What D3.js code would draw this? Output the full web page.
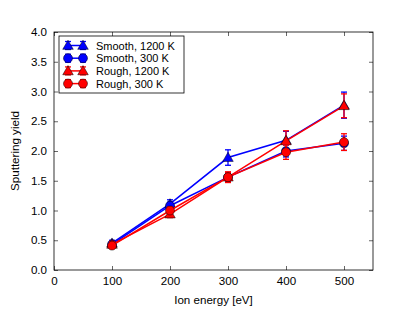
<!DOCTYPE html>
<html>
<head>
<meta charset="utf-8">
<script src="https://cdn.jsdelivr.net/npm/d3@7"></script>
<style>
  body { margin: 0; background: #fff; }
  svg { font-family: "Liberation Sans", Arial, sans-serif; }
</style>
</head>
<body>
<div id="chart"></div>
<script>
// data
const energies = [100, 200, 300, 400, 500]
const seriesNames = ['Smooth, 1200 K', 'Smooth, 300 K', 'Rough, 1200 K', 'Rough, 300 K']
const smooth1200 = [0.45, 1.11, 1.89, 2.18, 2.77]
const smooth1200Err = [0.05, 0.07, 0.13, 0.15, 0.22]
const smooth300 = [0.43, 1.08, 1.56, 2.0, 2.13]
const smooth300Err = [0.05, 0.06, 0.08, 0.1, 0.12]
const rough1200 = [0.43, 0.94, 1.56, 2.17, 2.76]
const rough1200Err = [0.05, 0.06, 0.08, 0.17, 0.2]
const rough300 = [0.41, 1.0, 1.56, 1.98, 2.15]
const rough300Err = [0.05, 0.06, 0.09, 0.12, 0.14]
const xTicks = [0, 100, 200, 300, 400, 500]
const yTicks = [0, 0.5, 1, 1.5, 2, 2.5, 3, 3.5, 4]

const series = [
  { name: seriesNames[0], y: smooth1200, err: smooth1200Err, color: 'blue', marker: 'triangle' },
  { name: seriesNames[1], y: smooth300, err: smooth300Err, color: 'blue', marker: 'circle' },
  { name: seriesNames[2], y: rough1200, err: rough1200Err, color: 'red', marker: 'triangle' },
  { name: seriesNames[3], y: rough300, err: rough300Err, color: 'red', marker: 'circle' }
]

const width = 415, height = 312
const margin = { top: 32, right: 42, bottom: 42, left: 54 }

const svg = d3.select('#chart').append('svg')
  .attr('width', width)
  .attr('height', height)

const x = d3.scaleLinear().domain([0, 550]).range([margin.left, width - margin.right])
const y = d3.scaleLinear().domain([0, 4]).range([height - margin.bottom, margin.top])

const tickLen = 4
// bottom + top ticks
svg.append('g').attr('transform', `translate(0,${y(0)})`)
  .call(d3.axisBottom(x).tickValues(xTicks).tickSizeInner(-tickLen).tickSizeOuter(0).tickPadding(7).tickFormat(d3.format('d')))
svg.append('g').attr('transform', `translate(0,${y(4)})`)
  .call(d3.axisTop(x).tickValues(xTicks).tickSizeInner(-tickLen).tickSizeOuter(0).tickFormat(''))
// left + right ticks
svg.append('g').attr('transform', `translate(${x(0)},0)`)
  .call(d3.axisLeft(y).tickValues(yTicks).tickSizeInner(-tickLen).tickSizeOuter(0).tickPadding(7).tickFormat(d3.format('.1f')))
svg.append('g').attr('transform', `translate(${x(550)},0)`)
  .call(d3.axisRight(y).tickValues(yTicks).tickSizeInner(-tickLen).tickSizeOuter(0).tickFormat(''))

svg.selectAll('.domain').remove()
svg.selectAll('.tick line').attr('stroke', '#000').attr('stroke-width', 0.6)
svg.selectAll('.tick text').attr('font-size', 11.6).attr('fill', '#000')

svg.append('rect')
  .attr('x', x(0)).attr('y', y(4))
  .attr('width', x(550) - x(0)).attr('height', y(0) - y(4))
  .attr('fill', 'none').attr('stroke', '#000').attr('stroke-width', 0.8)

svg.append('text')
  .attr('x', (x(0) + x(550)) / 2).attr('y', height - 8)
  .attr('text-anchor', 'middle').attr('font-size', 11.6)
  .text('Ion energy [eV]')
svg.append('text')
  .attr('transform', `translate(19,${(y(0) + y(4)) / 2}) rotate(-90)`)
  .attr('text-anchor', 'middle').attr('font-size', 11.6)
  .text('Sputtering yield')

const triangle = d3.symbol().type(d3.symbolTriangle).size(48)

function drawMarker(g, s, cx, cy) {
  if (s.marker === 'circle') {
    g.append('circle').attr('cx', cx).attr('cy', cy).attr('r', 4.5)
      .attr('fill', s.color).attr('stroke', '#000').attr('stroke-width', 0.5)
  } else {
    g.append('path').attr('d', triangle).attr('transform', `translate(${cx},${cy + 0.8})`)
      .attr('fill', s.color).attr('stroke', '#000').attr('stroke-width', 0.5)
  }
}

function drawErr(g, s, cx, y0, y1) {
  g.append('line').attr('x1', cx).attr('x2', cx).attr('y1', y0).attr('y2', y1)
    .attr('stroke', s.color).attr('stroke-width', 1.3)
  ;[y0, y1].forEach(v => g.append('line')
    .attr('x1', cx - 3).attr('x2', cx + 3).attr('y1', v).attr('y2', v)
    .attr('stroke', s.color).attr('stroke-width', 1.3))
}

const line = d3.line().x((d, i) => x(energies[i])).y(d => y(d))

const plot = svg.append('g')
series.forEach(s => {
  const g = plot.append('g')
  g.append('path').attr('d', line(s.y)).attr('fill', 'none')
    .attr('stroke', s.color).attr('stroke-width', 1.5)
  s.y.forEach((v, i) => drawErr(g, s, x(energies[i]), y(v - s.err[i]), y(v + s.err[i])))
  s.y.forEach((v, i) => drawMarker(g, s, x(energies[i]), y(v)))
})

// legend
const lg = svg.append('g')
lg.append('rect').attr('x', 59).attr('y', 36).attr('width', 125).attr('height', 57)
  .attr('fill', '#fff').attr('stroke', '#000').attr('stroke-width', 0.8)
series.forEach((s, i) => {
  const cy = 45.5 + i * 12.7
  const g = lg.append('g')
  g.append('line').attr('x1', 68).attr('x2', 83).attr('y1', cy).attr('y2', cy)
    .attr('stroke', s.color).attr('stroke-width', 1.5)
  ;[68, 83].forEach(cx => {
    drawErr(g, s, cx, cy - 4, cy + 4)
    drawMarker(g, s, cx, cy)
  })
  g.append('text').attr('x', 96).attr('y', cy + 4).attr('font-size', 11).text(s.name)
})
</script>
</body>
</html>
